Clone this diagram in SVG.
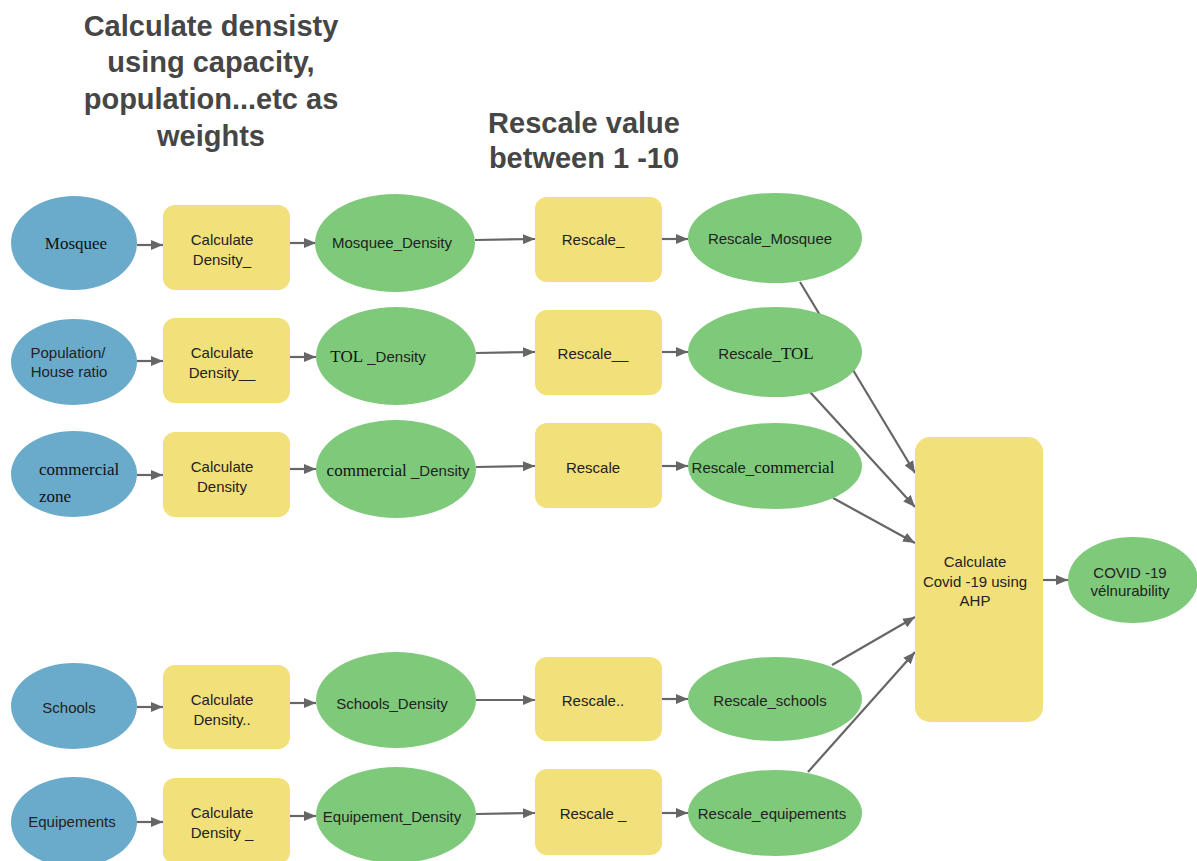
<svg xmlns="http://www.w3.org/2000/svg" width="1197" height="861" viewBox="0 0 1197 861">
<defs>
<style>
.title{font-family:"Liberation Sans",Arial,sans-serif;font-weight:bold;font-size:29px;fill:#464646;text-anchor:middle}
.t{font-family:"Liberation Sans",Arial,sans-serif;font-size:15px;fill:#222;text-anchor:middle}
.s{font-family:"Liberation Serif","Times New Roman",serif;font-size:17px;fill:#111}
.in{fill:#6aabcb}
.tool{fill:#f2e07a}
.out{fill:#7fc97a}
.c line{stroke:#666;stroke-width:2.2;marker-end:url(#ah)}
</style>
<marker id="ah" viewBox="0 0 12 10" refX="12" refY="5" markerWidth="12" markerHeight="10" markerUnits="userSpaceOnUse" orient="auto">
<path d="M0,0 L12,5 L0,10 z" fill="#666"/>
</marker>
</defs>
<rect width="1197" height="861" fill="#fff"/>

<g id="titles">
<text class="title" x="211" y="36">Calculate densisty</text>
<text class="title" x="211" y="72">using capacity,</text>
<text class="title" x="211" y="109">population...etc as</text>
<text class="title" x="211" y="146">weights</text>
<text class="title" x="584" y="133">Rescale value</text>
<text class="title" x="584" y="168">between 1 -10</text>
</g>

<g id="connectors" class="c">
<line x1="137" y1="245" x2="163" y2="245"/>
<line x1="290" y1="243" x2="316" y2="243"/>
<line x1="475" y1="240" x2="535" y2="239"/>
<line x1="662" y1="239" x2="688" y2="239"/>
<line x1="137" y1="361" x2="163" y2="361"/>
<line x1="290" y1="357" x2="316" y2="357"/>
<line x1="476" y1="353" x2="535" y2="352"/>
<line x1="662" y1="352" x2="688" y2="352"/>
<line x1="137" y1="475" x2="163" y2="475"/>
<line x1="290" y1="469" x2="316" y2="469"/>
<line x1="476" y1="467" x2="535" y2="466"/>
<line x1="662" y1="466" x2="688" y2="466"/>
<line x1="137" y1="707" x2="163" y2="707"/>
<line x1="290" y1="703" x2="316" y2="703"/>
<line x1="476" y1="700" x2="535" y2="700"/>
<line x1="662" y1="699" x2="688" y2="699"/>
<line x1="137" y1="822" x2="163" y2="822"/>
<line x1="290" y1="816" x2="316" y2="816"/>
<line x1="476" y1="814" x2="535" y2="813"/>
<line x1="662" y1="813" x2="688" y2="813"/>
<line x1="800" y1="282" x2="915" y2="473"/>
<line x1="810" y1="392" x2="915" y2="507"/>
<line x1="833" y1="498" x2="915" y2="543"/>
<line x1="832" y1="665" x2="915" y2="617"/>
<line x1="808" y1="772" x2="915" y2="652"/>
<line x1="1043" y1="580" x2="1068" y2="580"/>
</g>

<g id="mosquee"><ellipse class="in" cx="74" cy="243" rx="63" ry="47"/><text class="s" x="76" y="249" text-anchor="middle">Mosquee</text></g>
<g id="calc1"><rect class="tool" x="163" y="205" width="127" height="85" rx="12"/><text class="t" x="222" y="245">Calculate</text><text class="t" x="222" y="265">Density_</text></g>
<g id="mosquee_density"><ellipse class="out" cx="395" cy="243" rx="80" ry="49"/><text class="t" x="392" y="248">Mosquee_Density</text></g>
<g id="rescale1"><rect class="tool" x="535" y="197" width="127" height="85" rx="12"/><text class="t" x="593" y="245">Rescale_</text></g>
<g id="rescale_mosquee"><ellipse class="out" cx="775" cy="238" rx="87" ry="45"/><text class="t" x="770" y="244">Rescale_Mosquee</text></g>

<g id="population"><ellipse class="in" cx="74" cy="362" rx="63" ry="43"/><text class="t" x="68" y="358">Population/</text><text class="t" x="69" y="377">House ratio</text></g>
<g id="calc2"><rect class="tool" x="163" y="318" width="127" height="85" rx="12"/><text class="t" x="222" y="358">Calculate</text><text class="t" x="222" y="378">Density__</text></g>
<g id="tol_density"><ellipse class="out" cx="396" cy="356" rx="80" ry="49"/><text x="378" y="362" text-anchor="middle"><tspan class="s">TOL</tspan><tspan font-family="Liberation Sans, Arial, sans-serif" font-size="15" fill="#222"> _Density</tspan></text></g>
<g id="rescale2"><rect class="tool" x="535" y="310" width="127" height="85" rx="12"/><text class="t" x="593" y="359">Rescale__</text></g>
<g id="rescale_tol"><ellipse class="out" cx="775" cy="352" rx="87" ry="45"/><text x="766" y="359" text-anchor="middle"><tspan font-family="Liberation Sans, Arial, sans-serif" font-size="15" fill="#222">Rescale_</tspan><tspan class="s">TOL</tspan></text></g>

<g id="commercial"><ellipse class="in" cx="74" cy="474" rx="63" ry="43"/><text class="s" x="39" y="475">commercial</text><text class="s" x="39" y="502">zone</text></g>
<g id="calc3"><rect class="tool" x="163" y="432" width="127" height="85" rx="12"/><text class="t" x="222" y="472">Calculate</text><text class="t" x="222" y="492">Density</text></g>
<g id="commercial_density"><ellipse class="out" cx="396" cy="469" rx="80" ry="49"/><text x="398" y="476" text-anchor="middle"><tspan class="s">commercial</tspan><tspan font-family="Liberation Sans, Arial, sans-serif" font-size="15" fill="#222">  _Density</tspan></text></g>
<g id="rescale3"><rect class="tool" x="535" y="423" width="127" height="85" rx="12"/><text class="t" x="593" y="473">Rescale</text></g>
<g id="rescale_commercial"><ellipse class="out" cx="775" cy="466" rx="87" ry="43"/><text x="763" y="473" text-anchor="middle"><tspan font-family="Liberation Sans, Arial, sans-serif" font-size="15" fill="#222">Rescale_</tspan><tspan class="s">commercial</tspan></text></g>

<g id="schools"><ellipse class="in" cx="74" cy="706" rx="63" ry="43"/><text class="t" x="69" y="713">Schools</text></g>
<g id="calc4"><rect class="tool" x="163" y="665" width="127" height="84" rx="12"/><text class="t" x="222" y="705">Calculate</text><text class="t" x="222" y="725">Density..</text></g>
<g id="schools_density"><ellipse class="out" cx="396" cy="700" rx="80" ry="48"/><text class="t" x="392" y="709">Schools_Density</text></g>
<g id="rescale4"><rect class="tool" x="535" y="657" width="127" height="84" rx="12"/><text class="t" x="593" y="706">Rescale..</text></g>
<g id="rescale_schools"><ellipse class="out" cx="775" cy="699" rx="87" ry="42"/><text class="t" x="770" y="706">Rescale_schools</text></g>

<g id="equipements"><ellipse class="in" cx="74" cy="822" rx="63" ry="45"/><text class="t" x="72" y="827">Equipements</text></g>
<g id="calc5"><rect class="tool" x="163" y="778" width="127" height="86" rx="12"/><text class="t" x="222" y="818">Calculate</text><text class="t" x="222" y="838">Density _</text></g>
<g id="equipement_density"><ellipse class="out" cx="396" cy="815" rx="80" ry="48"/><text class="t" x="392" y="822">Equipement_Density</text></g>
<g id="rescale5"><rect class="tool" x="535" y="769" width="127" height="86" rx="12"/><text class="t" x="593" y="819">Rescale _</text></g>
<g id="rescale_equipements"><ellipse class="out" cx="775" cy="813" rx="87" ry="43"/><text class="t" x="772" y="819">Rescale_equipements</text></g>

<g id="ahp"><rect class="tool" x="915" y="437" width="128" height="285" rx="15"/><text class="t" x="975" y="567">Calculate</text><text class="t" x="975" y="587">Covid -19 using</text><text class="t" x="975" y="606">AHP</text></g>
<g id="covid"><ellipse class="out" cx="1133" cy="580" rx="65" ry="43"/><text class="t" x="1130" y="578">COVID -19</text><text class="t" x="1130" y="596">vélnurability</text></g>
</svg>
